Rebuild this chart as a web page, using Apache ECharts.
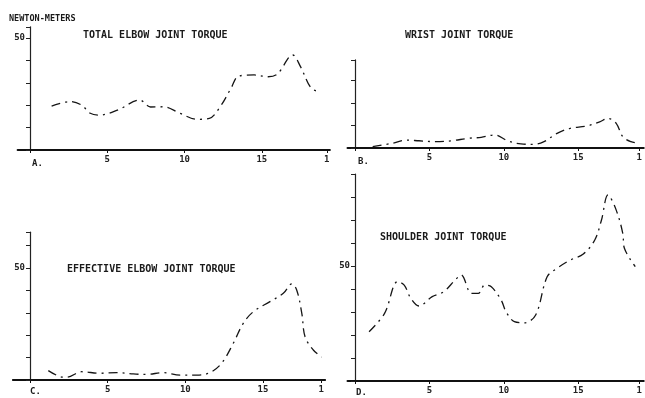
<!DOCTYPE html>
<html><head><meta charset="utf-8">
<script src="https://cdn.jsdelivr.net/npm/echarts@6/dist/echarts.min.js"></script>
<style>html,body{margin:0;background:#fff}#c{width:645px;height:398px}</style>
</head><body><div id="c"></div><script>
// Panel A: total elbow joint torque
const A_x = [1.4,2.6,3.35,3.9,4.5,5.7,7.1,7.8,8.65,9.7,10.8,11.6,12.3,13,13.5,14.5,15.4,16,17,17.5,18.2,18.8];
const A_y = [19.6,21.6,20,16.4,15.6,17.9,22.3,19.2,19.3,16.4,13.7,14.1,19.3,27.5,33,33.5,32.7,33.9,42.4,37.2,27.5,26];
// Panel B: wrist joint torque
const B_x = [1.19,2.52,3.42,4.3,5.41,6.49,7.62,8.48,9.38,10.26,11.15,12.03,12.7,13.58,14.46,15.56,16.44,17.0,17.55,17.99,18.54,19.07];
const B_y = [0.6,2.1,3.5,3.2,2.8,3.2,4.3,4.7,5.8,3.2,1.8,1.6,2.8,6.5,8.7,9.7,11.6,13.1,10.9,5,2.8,2.1];
// Panel C: effective elbow joint torque
const C_x = [1.18,1.93,2.36,3.33,4.51,5.58,6.65,7.51,8.58,9.66,10.73,11.59,12.34,13.09,13.73,14.38,15.45,16.31,16.85,17.17,17.5,17.71,18.24,18.78];
const C_y = [4.2,1.5,1.2,3.7,3.0,3.3,2.7,2.5,3.3,2.2,2.2,3.3,7.5,16.4,25.3,30.5,35,38.7,42.9,40.2,29.8,19.3,13.4,10.2];
// Panel D: shoulder joint torque
const D_x = [0.95,1.99,2.87,3.31,3.75,4.3,5.19,5.96,6.73,7.13,7.83,8.28,8.72,9.16,9.82,10.15,10.71,11.37,12.14,12.91,13.58,14.46,15.34,16.11,16.56,17.0,17.55,17.99,18.1,18.83];
const D_y = [21.4,29.4,43.2,41.7,36,32.6,36.7,38.8,43.9,46.1,38.1,38.1,41.7,41,35.2,30.1,25.8,25.3,28.7,45.3,49,52.6,55.2,61.3,70,80.9,74.3,64.2,57.7,49.7];

const titles = ['TOTAL ELBOW JOINT TORQUE','WRIST JOINT TORQUE','EFFECTIVE ELBOW JOINT TORQUE','SHOULDER JOINT TORQUE'];
const letters = ['A.','B.','C.','D.'];
const xTicks = [5,10,15];
const lastTickLabel = '1';
const yLabelValue = 50;
const unitLabel = 'NEWTON-METERS';

const panels = [
  {x:A_x, y:A_y, last:19.2, xmin:-0.8, xmax:19.4, ymax:55, left:17.6, origin:30, top:26.8, width:312.3, height:123.2, showY:true},
  {x:B_x, y:B_y, last:19.1, xmin:-0.5, xmax:19.4, ymax:39, left:347.5, origin:355, top:59.9, width:300.5, height:88.1, showY:false},
  {x:C_x, y:C_y, last:18.75, xmin:-1.1, xmax:19.0, ymax:66, left:12.9, origin:30, top:232.2, width:312.2, height:147.8, showY:true},
  {x:D_x, y:D_y, last:19.1, xmin:-0.5, xmax:19.4, ymax:90, left:347.5, origin:355, top:174, width:300.5, height:207, showY:true}
];

const FONT = 'DejaVu Sans Mono';
const grids = [], xAxes = [], yAxes = [], series = [];
panels.forEach((p, i) => {
  grids.push({left:p.left, top:p.top, width:p.width, height:p.height});
  const lastV = p.last;
  xAxes.push({
    type:'value', gridIndex:i, min:p.xmin, max:p.xmax,
    axisLine:{show:true, onZero:false, lineStyle:{color:'#111', width:2}},
    axisTick:{show:true, customValues:[0].concat(xTicks, [lastV]), length:3, lineStyle:{color:'#111'}},
    axisLabel:{show:true, customValues:xTicks.concat([lastV]), margin:5,
      fontFamily:FONT, fontWeight:'bold', fontSize:9, color:'#222',
      formatter:v => (Math.abs(v - lastV) < 1e-6 ? lastTickLabel : String(v))},
    splitLine:{show:false}
  });
  yAxes.push({
    type:'value', gridIndex:i, min:0, max:p.ymax, interval:10,
    position:'left', offset:-(p.origin - p.left),
    axisLine:{show:true, onZero:false, lineStyle:{color:'#222', width:1.2}},
    axisTick:{show:true, length:4, lineStyle:{color:'#222'}},
    axisLabel:{show:p.showY, margin:5, fontFamily:FONT, fontWeight:'bold', fontSize:9, color:'#222',
      formatter:v => (v === yLabelValue ? String(v) : '')},
    splitLine:{show:false}
  });
  series.push({
    type:'line', xAxisIndex:i, yAxisIndex:i,
    data:p.x.map((v, k) => [v, p.y[k]]),
    showSymbol:false, smooth:0.35, silent:true,
    lineStyle:{color:'#151515', width:1.3, type:[9,5,2,5]}
  });
});

const txt = (x, y, s, size) => ({type:'text', left:x, top:y,
  style:{text:s, fill:'#1a1a1a', font:'bold ' + (size||10) + 'px "' + FONT + '"'}});

const chart = echarts.init(document.getElementById('c'), null, {renderer:'canvas'});
chart.setOption({
  animation:false,
  backgroundColor:'#fff',
  grid:grids, xAxis:xAxes, yAxis:yAxes, series:series,
  graphic:[
    txt(9, 14, unitLabel, 8.5),
    txt(83, 30, titles[0], 10),
    txt(405, 30, titles[1], 10),
    txt(67, 264, titles[2], 10),
    txt(380, 232, titles[3], 10),
    txt(32, 159, letters[0], 9),
    txt(358, 157, letters[1], 9),
    txt(30, 387, letters[2], 9),
    txt(356, 388, letters[3], 9)
  ]
});
</script></body></html>
